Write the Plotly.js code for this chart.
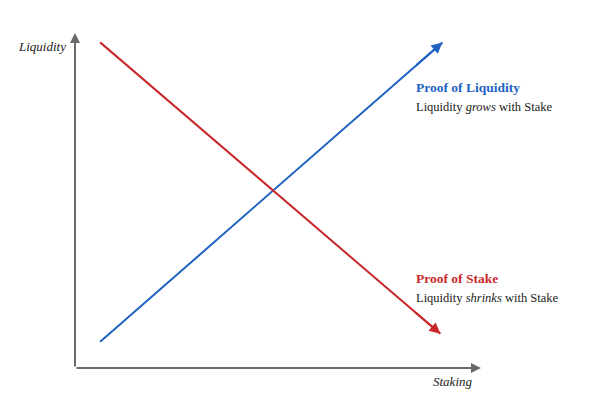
<!DOCTYPE html>
<html><head><meta charset="utf-8">
<script src="https://cdn.plot.ly/plotly-3.0.1.min.js"></script>
<style>html,body{margin:0;padding:0;background:#fff}#chart{width:600px;height:402px}</style>
</head><body><div id="chart"></div>
<script>
// Conceptual chart: stake (x) vs liquidity (y), arbitrary units 0–10
const stakeX = [0.62, 9.05];
const proofOfLiquidityY = [0.78, 9.72];
const proofOfStakeX = [0.62, 9.0];
const proofOfStakeY = [9.72, 1.02];
const seriesNames = ['Proof of Liquidity', 'Proof of Stake'];
const seriesNotes = ['Liquidity <i>grows</i> with Stake', 'Liquidity <i>shrinks</i> with Stake'];
const axisTitles = ['Staking', 'Liquidity'];

const blue = '#1f62c4', red = '#c8282a', axisGrey = '#6a6a6a';
const serif = 'Liberation Serif';

const traces = [
  {x: stakeX, y: proofOfLiquidityY, mode: 'lines', name: seriesNames[0],
   line: {color: blue, width: 2}, cliponaxis: false, hoverinfo: 'skip'},
  {x: proofOfStakeX, y: proofOfStakeY, mode: 'lines', name: seriesNames[1],
   line: {color: red, width: 2}, cliponaxis: false, hoverinfo: 'skip'}
];

function endArrow(xs, ys, color) {
  const n = xs.length;
  const tx = xs[n-1] - (xs[n-1] - xs[n-2]) * 0.08;
  const ty = ys[n-1] - (ys[n-1] - ys[n-2]) * 0.08;
  return {xref: 'x', yref: 'y', axref: 'x', ayref: 'y', x: xs[n-1], y: ys[n-1], ax: tx, ay: ty,
    text: '', showarrow: true, arrowhead: 2, arrowsize: 1.1, arrowwidth: 2, arrowcolor: color};
}

const layout = {
  width: 600, height: 402,
  margin: {l: 75, r: 119, t: 33, b: 34},
  paper_bgcolor: '#fff', plot_bgcolor: '#fff',
  showlegend: false,
  font: {family: serif},
  xaxis: {range: [0, 10], showgrid: false, zeroline: false, showticklabels: false, ticks: '', showline: false, fixedrange: true},
  yaxis: {range: [0, 10], showgrid: false, zeroline: false, showticklabels: false, ticks: '', showline: false, fixedrange: true},
  annotations: [
    // axis arrows
    {xref: 'x', yref: 'y', axref: 'x', ayref: 'y', x: 10, y: 0, ax: 0, ay: 0, text: '',
     showarrow: true, arrowhead: 2, arrowsize: 1, arrowwidth: 2, arrowcolor: axisGrey},
    {xref: 'x', yref: 'y', axref: 'x', ayref: 'y', x: 0, y: 10, ax: 0, ay: 0, text: '',
     showarrow: true, arrowhead: 2, arrowsize: 1, arrowwidth: 2, arrowcolor: axisGrey},
    endArrow(stakeX, proofOfLiquidityY, blue),
    endArrow(proofOfStakeX, proofOfStakeY, red),
    // axis titles
    {xref: 'paper', yref: 'paper', x: -0.018, y: 0.961, xanchor: 'right', yanchor: 'middle', showarrow: false,
     text: '<i>' + axisTitles[1] + '</i>', font: {family: serif, size: 13, color: '#222'}},
    {xref: 'paper', yref: 'paper', x: 0.931, y: -0.039, xanchor: 'center', yanchor: 'middle', showarrow: false,
     text: '<i>' + axisTitles[0] + '</i>', font: {family: serif, size: 13, color: '#222'}},
    // series labels
    {xref: 'paper', yref: 'paper', x: 0.835, y: 0.836, xanchor: 'left', yanchor: 'middle', showarrow: false,
     text: '<b>' + seriesNames[0] + '</b>', font: {family: serif, size: 13.5, color: blue}},
    {xref: 'paper', yref: 'paper', x: 0.835, y: 0.779, xanchor: 'left', yanchor: 'middle', showarrow: false,
     text: seriesNotes[0], font: {family: serif, size: 12.5, color: '#222'}},
    {xref: 'paper', yref: 'paper', x: 0.835, y: 0.266, xanchor: 'left', yanchor: 'middle', showarrow: false,
     text: '<b>' + seriesNames[1] + '</b>', font: {family: serif, size: 13.5, color: red}},
    {xref: 'paper', yref: 'paper', x: 0.835, y: 0.209, xanchor: 'left', yanchor: 'middle', showarrow: false,
     text: seriesNotes[1], font: {family: serif, size: 12.5, color: '#222'}}
  ]
};

Plotly.newPlot('chart', traces, layout, {displayModeBar: false, staticPlot: true});
</script></body></html>
